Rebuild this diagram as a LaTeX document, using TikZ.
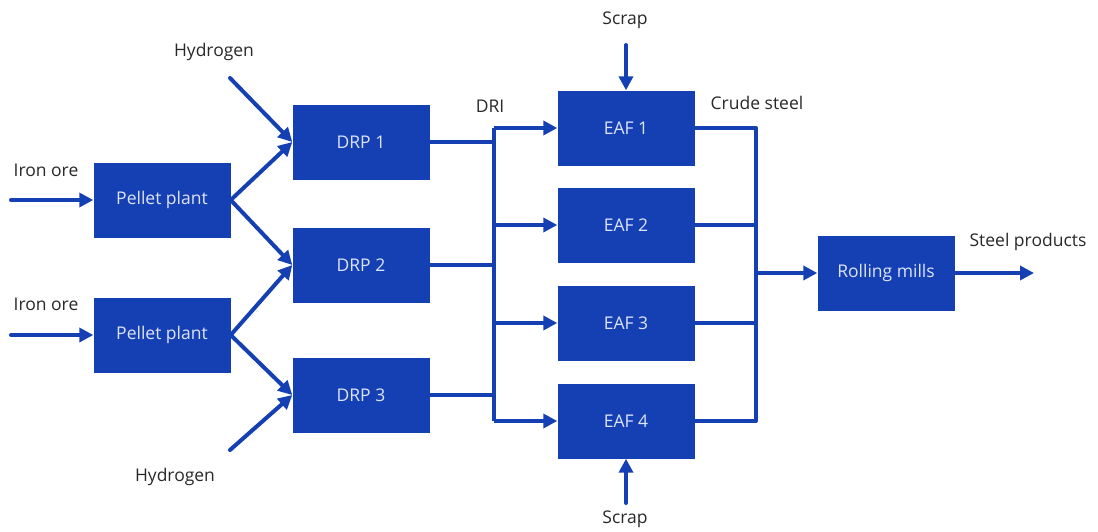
\documentclass[tikz,border=0pt]{standalone}
\usepackage{fontspec}
\setmainfont{Open Sans}
\usetikzlibrary{arrows.meta}
\definecolor{boxblue}{RGB}{21,64,180}
\definecolor{boxtext}{RGB}{222,228,248}
\definecolor{labtext}{RGB}{40,40,40}
\begin{document}
\begin{tikzpicture}[x=1pt,y=-1pt,
  unit/.style={fill=boxblue,draw=none,minimum width=137pt,minimum height=75pt,inner sep=0pt,text=boxtext,font=\fontsize{17.5}{20}\selectfont},
  lab/.style={text=labtext,font=\fontsize{17.5}{20}\selectfont,inner sep=0pt},
  flow/.style={draw=boxblue,line width=4pt,-{Triangle[length=14pt,width=14pt]},line cap=round},
  pipe/.style={draw=boxblue,line width=4pt,line join=round}]
\useasboundingbox (0,0) rectangle (1098,531);
% nodes
\node[unit] (pp1) at (162,200) {Pellet plant};
\node[unit] (pp2) at (162,335) {Pellet plant};
\node[unit] (drp1) at (361,142) {DRP 1};
\node[unit] (drp2) at (361,265) {DRP 2};
\node[unit] (drp3) at (361,395) {DRP 3};
\node[unit] (eaf1) at (626,128) {EAF 1};
\node[unit] (eaf2) at (626,225) {EAF 2};
\node[unit] (eaf3) at (626,323) {EAF 3};
\node[unit] (eaf4) at (626,421) {EAF 4};
\node[unit] (rm) at (886,273) {Rolling mills};
% labels
\node[lab] (io1) at (46,170) {Iron ore};
\node[lab] (io2) at (46,304) {Iron ore};
\node[lab] (h1) at (214,52) {Hydrogen};
\node[lab] (h2) at (175,477) {Hydrogen};
\node[lab] (s1) at (625,20) {Scrap};
\node[lab] (s2) at (625,519) {Scrap};
\node[lab] (dri) at (490,106) {DRI};
\node[lab] (cs) at (757,103) {Crude steel};
\node[lab] (sp) at (1028,242) {Steel products};
% free-end coordinates
\coordinate (ioa) at (11,200);
\coordinate (iob) at (11,335);
\coordinate (ha) at (230,78);
\coordinate (hb) at (230,450);
\coordinate (sa) at (626,45);
\coordinate (sb) at (626,503);
\coordinate (spend) at (1034,273);
\coordinate (bus1t) at (494,128);
\coordinate (bus1b) at (494,421);
\coordinate (bus2t) at (756,128);
\coordinate (bus2b) at (756,421);
\coordinate (bus2m) at (756,273);
% inputs
\draw[flow] (ioa) -- (pp1.west);
\draw[flow] (iob) -- (pp2.west);
\draw[flow] (ha) -- (drp1.west);
\draw[flow] (hb) -- (drp3.west);
\draw[flow] (pp1.east) -- (drp1.west);
\draw[flow] (pp1.east) -- (drp2.west);
\draw[flow] (pp2.east) -- (drp2.west);
\draw[flow] (pp2.east) -- (drp3.west);
\draw[flow] (sa) -- (eaf1.north);
\draw[flow] (sb) -- (eaf4.south);
% DRI bus
\draw[pipe] (bus1t) -- (bus1b);
\draw[pipe] (drp1.east) -- (drp1.east -| bus1t);
\draw[pipe] (drp2.east) -- (drp2.east -| bus1t);
\draw[pipe] (drp3.east) -- (drp3.east -| bus1t);
\draw[flow,line cap=butt] (bus1t) -- (eaf1.west);
\draw[flow,line cap=butt] (eaf2.west -| bus1t) -- (eaf2.west);
\draw[flow,line cap=butt] (eaf3.west -| bus1t) -- (eaf3.west);
\draw[flow,line cap=butt] (bus1b) -- (eaf4.west);
% crude steel bus
\draw[pipe] (eaf1.east) -- (bus2t) -- (bus2b) -- (eaf4.east);
\draw[pipe] (eaf2.east) -- (eaf2.east -| bus2t);
\draw[pipe] (eaf3.east) -- (eaf3.east -| bus2t);
\draw[flow,line cap=butt] (bus2m) -- (rm.west);
\draw[flow,line cap=butt] (rm.east) -- (spend);
\end{tikzpicture}
\end{document}
